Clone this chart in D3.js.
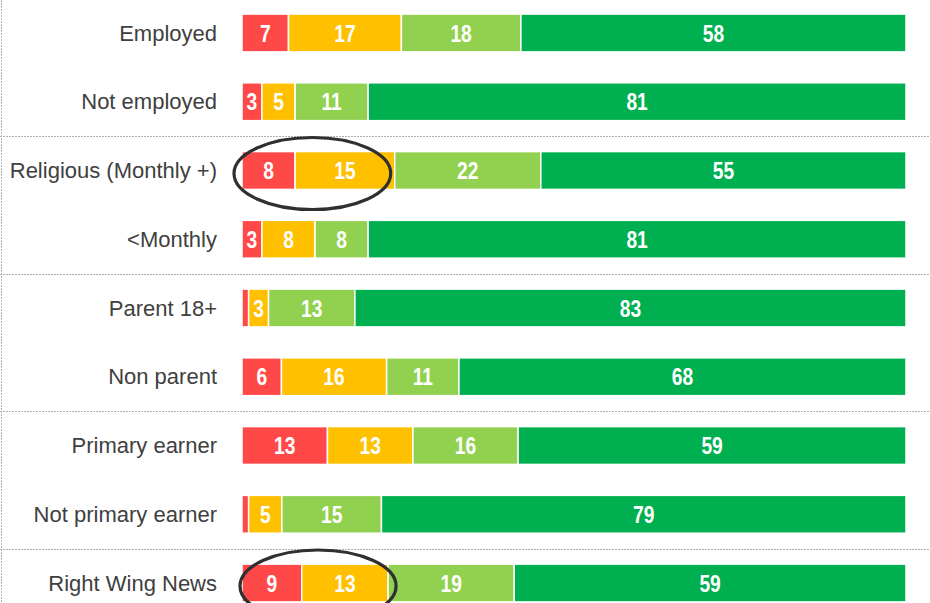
<!DOCTYPE html>
<html>
<head>
<meta charset="utf-8">
<script src="https://cdn.jsdelivr.net/npm/d3@7"></script>
<style>
  html, body { margin: 0; padding: 0; background: #ffffff; }
  svg { display: block; }
</style>
</head>
<body>
<div id="chart"></div>
<script>
const categories = ['Employed', 'Not employed', 'Religious (Monthly +)', '<Monthly', 'Parent 18+',
    'Non parent', 'Primary earner', 'Not primary earner', 'Right Wing News'];
const seriesKeys = ['s1', 's2', 's3', 's4'];
const s1 = [7, 3, 8, 3, 1, 6, 13, 1, 9];
const s2 = [17, 5, 15, 8, 3, 16, 13, 5, 13];
const s3 = [18, 11, 22, 8, 13, 11, 16, 15, 19];
const s4 = [58, 81, 55, 81, 83, 68, 59, 79, 59];
// rows after which a dotted separator is drawn
const groupBreaks = ['Not employed', '<Monthly', 'Non parent', 'Not primary earner'];
// circled segments
const highlights = [
    { cat: 'Religious (Monthly +)', dx: -6, padX: 2 },
    { cat: 'Right Wing News', dx: 3, padX: 5 }
];

const width = 930, height = 603;
const colors = ['#ff4848', '#ffc000', '#92d050', '#00b050'];

const rows = categories.map((c, i) => ({ cat: c, s1: s1[i], s2: s2[i], s3: s3[i], s4: s4[i] }));

const svg = d3.select('#chart').append('svg')
    .attr('width', width)
    .attr('height', height);

const x = d3.scaleLinear().domain([0, 1]).range([242, 906]);
const y = d3.scaleBand()
    .domain(categories)
    .range([-1.4, 617.4])
    .paddingInner(0.45)
    .paddingOuter(0.225);

const stack = d3.stack().keys(seriesKeys).offset(d3.stackOffsetExpand);
const layers = stack(rows);

// frame lines
svg.append('line')
    .attr('x1', 1.5).attr('x2', 1.5)
    .attr('y1', 0).attr('y2', height)
    .attr('stroke', '#b0b0b0')
    .attr('stroke-dasharray', '2,1');

const step = y.step();
svg.selectAll('line.sep')
    .data(groupBreaks)
    .enter().append('line')
    .attr('class', 'sep')
    .attr('x1', 0).attr('x2', width)
    .attr('y1', d => Math.round(y(d) + y.bandwidth() / 2 + step / 2) + 0.5)
    .attr('y2', d => Math.round(y(d) + y.bandwidth() / 2 + step / 2) + 0.5)
    .attr('stroke', '#b0b0b0')
    .attr('stroke-dasharray', '2,1');

// category labels
svg.selectAll('text.cat')
    .data(categories)
    .enter().append('text')
    .attr('class', 'cat')
    .attr('x', 217)
    .attr('y', d => y(d) + y.bandwidth() / 2)
    .attr('dy', '0.35em')
    .attr('text-anchor', 'end')
    .attr('font-family', 'Liberation Sans, Arial, sans-serif')
    .attr('font-size', 22)
    .attr('fill', '#404040')
    .text(d => d);

// bars
const layer = svg.selectAll('g.layer')
    .data(layers)
    .enter().append('g')
    .attr('class', 'layer')
    .attr('fill', (d, i) => colors[i]);

layer.selectAll('rect')
    .data(d => d)
    .enter().append('rect')
    .attr('x', d => x(d[0]))
    .attr('y', d => y(d.data.cat))
    .attr('width', d => x(d[1]) - x(d[0]))
    .attr('height', y.bandwidth())
    .attr('stroke', '#ffffff')
    .attr('stroke-width', 1.5);

// value labels, condensed bold
layer.selectAll('text')
    .data((d, i) => d.map(p => ({ p: p, key: seriesKeys[i] })))
    .enter().append('text')
    .filter(d => d.p.data[d.key] >= 2)
    .attr('transform', d => {
        const cx = (x(d.p[0]) + x(d.p[1])) / 2;
        const cy = y(d.p.data.cat) + y.bandwidth() / 2;
        return `translate(${cx},${cy}) scale(0.8,1)`;
    })
    .attr('dy', '0.36em')
    .attr('text-anchor', 'middle')
    .attr('font-family', 'Liberation Sans, Arial, sans-serif')
    .attr('font-weight', 'bold')
    .attr('font-size', 24)
    .attr('fill', '#ffffff')
    .text(d => d.p.data[d.key]);

// circled annotations around first two segments
svg.selectAll('ellipse.hl')
    .data(highlights)
    .enter().append('ellipse')
    .attr('class', 'hl')
    .attr('cx', d => {
        const i = categories.indexOf(d.cat);
        return (x(layers[0][i][0]) + x(layers[1][i][1])) / 2 + d.dx;
    })
    .attr('cy', d => y(d.cat) + y.bandwidth() / 2 + 3)
    .attr('rx', d => {
        const i = categories.indexOf(d.cat);
        return (x(layers[1][i][1]) - x(layers[0][i][0])) / 2 + d.padX;
    })
    .attr('ry', 36)
    .attr('fill', 'none')
    .attr('stroke', '#303030')
    .attr('stroke-width', 3.2);
</script>
</body>
</html>
